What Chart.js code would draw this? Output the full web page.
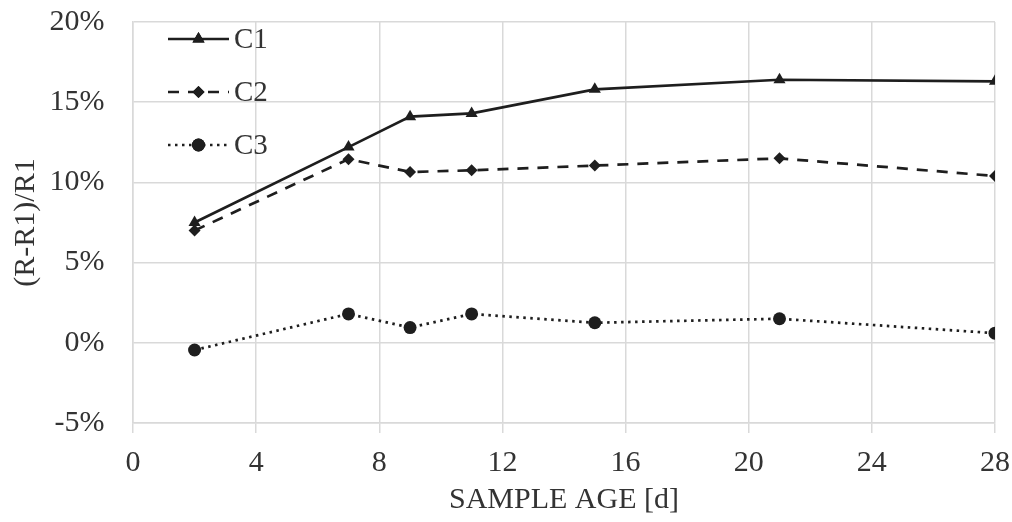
<!DOCTYPE html>
<html>
<head>
<meta charset="utf-8">
<script src="https://cdn.jsdelivr.net/npm/chart.js@4.4.0/dist/chart.umd.min.js"></script>
<style>
  html, body { margin: 0; padding: 0; background: #fff; }
  #wrap { width: 1012px; height: 522px; }
</style>
</head>
<body>
<div id="wrap"><canvas id="ageChart" width="1012" height="522"></canvas></div>
<script>
// sample age in days
const ages = [2, 7, 9, 11, 15, 21, 28];
// (R-R1)/R1 in percent
const c1 = [7.5, 12.2, 14.1, 14.3, 15.8, 16.4, 16.3];
const c2 = [7.0, 11.45, 10.65, 10.75, 11.05, 11.5, 10.4];
const c3 = [-0.45, 1.8, 0.95, 1.8, 1.25, 1.5, 0.6];
const seriesNames = ["C1", "C2", "C3"];

const ink = "#1e1e1e";
const serif = "'Liberation Serif', 'Times New Roman', serif";
const gridGray = "#d9d9d9";

function pts(ys) {
  return ages.map((x, i) => ({ x: x, y: ys[i] }));
}

// legend drawn inside the plot, line sample with marker in the middle
const insideLegend = {
  id: "insideLegend",
  afterDraw(chart) {
    const ctx = chart.ctx;
    const a = chart.chartArea;
    const x0 = a.left + 35, x1 = a.left + 96;
    const rows = [a.top + 17, a.top + 70, a.top + 123];
    chart.data.datasets.forEach((ds, i) => {
      const y = rows[i];
      ctx.save();
      ctx.strokeStyle = ink;
      ctx.lineWidth = ds.borderWidth;
      ctx.setLineDash(ds.borderDash || []);
      ctx.beginPath();
      ctx.moveTo(x0, y);
      ctx.lineTo(x1, y);
      ctx.stroke();
      ctx.setLineDash([]);
      Chart.helpers.drawPoint(ctx, {
        pointStyle: ds.pointStyle,
        radius: ds.pointRadius,
        rotation: 0,
        borderWidth: 0
      }, (x0 + x1) / 2, y);
      ctx.fillStyle = ink;
      ctx.fill();
      ctx.fillStyle = "#333";
      ctx.font = "29px " + serif;
      ctx.textBaseline = "middle";
      ctx.textAlign = "left";
      ctx.fillText(seriesNames[i], x1 + 5, y + 1);
      ctx.restore();
    });
  }
};

const ctx = document.getElementById("ageChart").getContext("2d");
new Chart(ctx, {
  type: "line",
  data: {
    datasets: [{
      label: seriesNames[0],
      data: pts(c1),
      borderColor: ink,
      backgroundColor: ink,
      borderWidth: 2.7,
      pointStyle: "triangle",
      pointRadius: 7,
      pointBorderWidth: 0
    }, {
      label: seriesNames[1],
      data: pts(c2),
      borderColor: ink,
      backgroundColor: ink,
      borderWidth: 2.7,
      borderDash: [11, 9],
      pointStyle: "rectRot",
      pointRadius: 6,
      pointBorderWidth: 0
    }, {
      label: seriesNames[2],
      data: pts(c3),
      borderColor: ink,
      backgroundColor: ink,
      borderWidth: 2.7,
      borderDash: [2.5, 4.5],
      pointStyle: "circle",
      pointRadius: 6.5,
      pointBorderWidth: 0
    }]
  },
  options: {
    responsive: false,
    animation: false,
    layout: { padding: { top: 22, right: 17, left: 0, bottom: 0 } },
    plugins: {
      legend: { display: false },
      tooltip: { enabled: false }
    },
    scales: {
      x: {
        type: "linear",
        min: 0,
        max: 28,
        afterFit(axis) { axis.height = 99; },
        ticks: {
          stepSize: 4,
          color: "#333",
          padding: 2,
          maxRotation: 0,
          font: { family: serif, size: 30, lineHeight: 1.9 }
        },
        grid: { color: gridGray, lineWidth: 1.5, tickLength: 10 },
        border: { color: gridGray, width: 1.5 },
        title: {
          display: true,
          text: "SAMPLE AGE [d]",
          color: "#333",
          font: { family: serif, size: 30 },
          padding: { top: 0, bottom: 4 }
        }
      },
      y: {
        min: -5,
        max: 20,
        afterFit(axis) { axis.width = 133; },
        ticks: {
          stepSize: 5,
          color: "#333",
          padding: 6,
          font: { family: serif, size: 30, lineHeight: 1 },
          callback: (v) => v + "%   "
        },
        grid: { color: gridGray, lineWidth: 1.5, drawTicks: false },
        border: { color: gridGray, width: 1.5 },
        title: {
          display: true,
          text: "(R-R1)/R1",
          color: "#333",
          font: { family: serif, size: 30 },
          padding: { top: 8, bottom: 0 }
        }
      }
    }
  },
  plugins: [insideLegend]
});
</script>
</body>
</html>
